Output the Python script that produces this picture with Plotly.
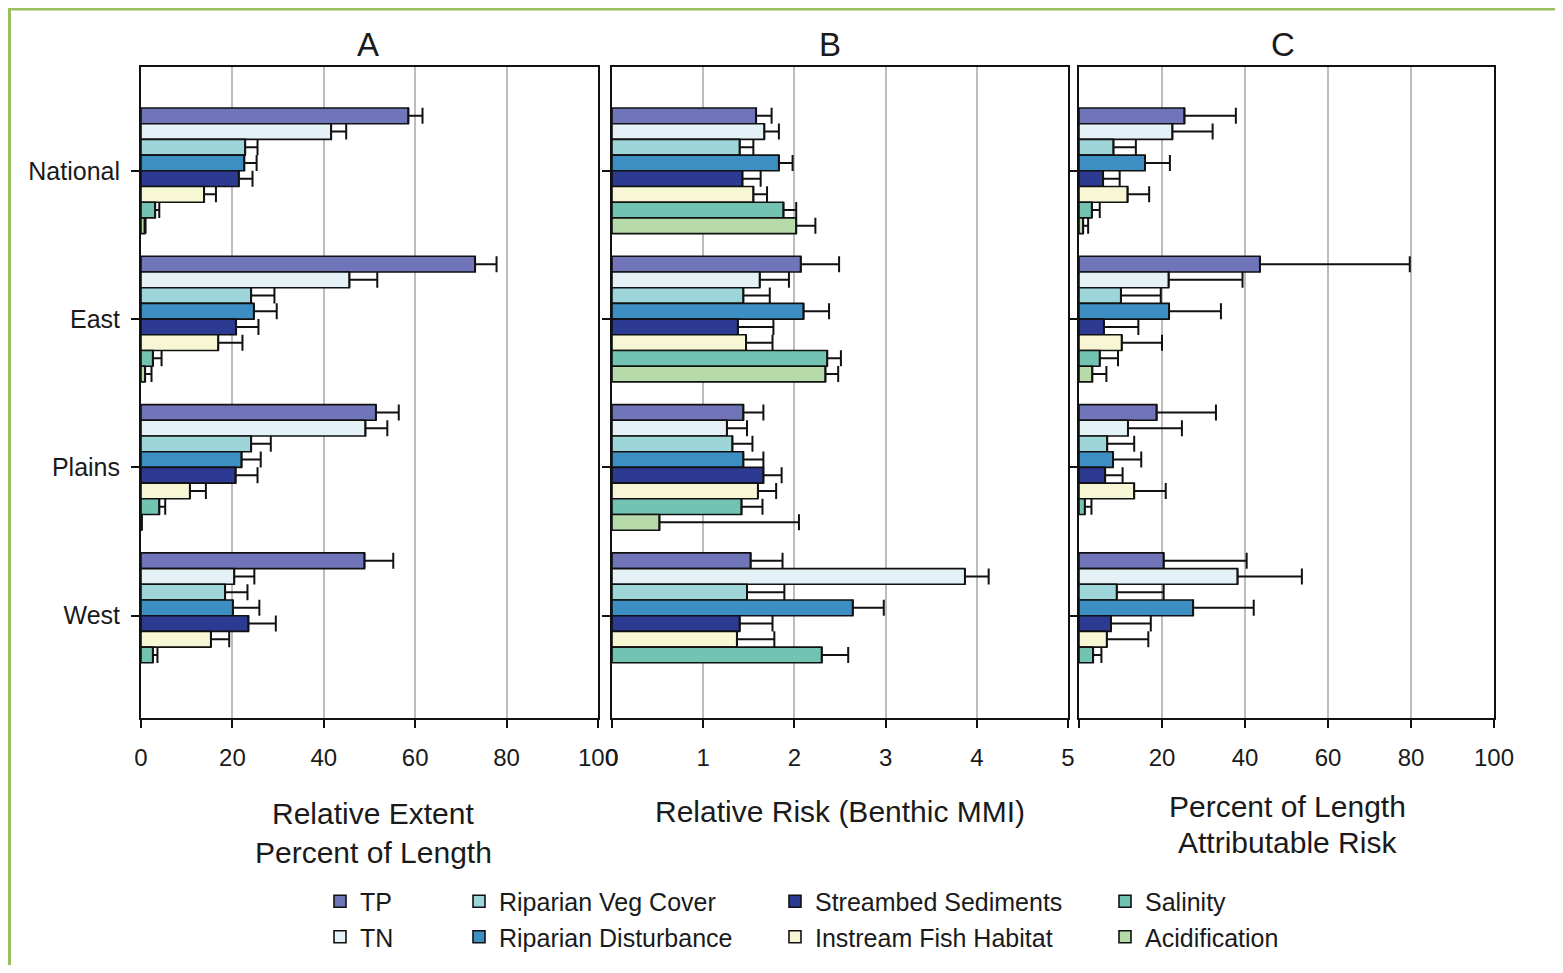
import plotly.graph_objects as go

PAGE_W, PAGE_H = 1563, 973
OFF = 8  # default browser body margin
W, H = PAGE_W - 2 * OFF, PAGE_H - 2 * OFF

regions = ["National", "East", "Plains", "West"]
stressors = ["TP", "TN", "Riparian Veg Cover", "Riparian Disturbance",
             "Streambed Sediments", "Instream Fish Habitat", "Salinity", "Acidification"]
colors = ["#7074B8", "#E4F2F8", "#9ED5D9", "#3D8FC3",
          "#2C3A92", "#F7F7D5", "#73C3B2", "#B7DAAA"]

# Panel A: Relative extent (% of length) and upper CI
ext_val = {
    "TP": [58.5, 73.1, 51.4, 48.9],
    "TN": [41.6, 45.6, 49.1, 20.4],
    "Riparian Veg Cover": [22.8, 24.1, 24.1, 18.4],
    "Riparian Disturbance": [22.6, 24.7, 22.0, 20.1],
    "Streambed Sediments": [21.4, 20.8, 20.7, 23.5],
    "Instream Fish Habitat": [13.8, 16.9, 10.7, 15.3],
    "Salinity": [3.1, 2.6, 4.0, 2.6],
    "Acidification": [0.8, 0.9, 0.1, None],
}
ext_up = {
    "TP": [61.6, 77.8, 56.4, 55.2],
    "TN": [44.9, 51.7, 53.9, 24.8],
    "Riparian Veg Cover": [25.5, 29.2, 28.4, 23.3],
    "Riparian Disturbance": [25.3, 29.7, 26.2, 25.9],
    "Streambed Sediments": [24.4, 25.7, 25.5, 29.5],
    "Instream Fish Habitat": [16.4, 22.2, 14.2, 19.3],
    "Salinity": [4.0, 4.5, 5.3, 3.6],
    "Acidification": [1.0, 2.3, 0.2, None],
}

# Panel B: Relative risk (Benthic MMI) and upper CI
rr_val = {
    "TP": [1.58, 2.07, 1.44, 1.52],
    "TN": [1.67, 1.62, 1.26, 3.87],
    "Riparian Veg Cover": [1.40, 1.44, 1.32, 1.48],
    "Riparian Disturbance": [1.83, 2.10, 1.44, 2.64],
    "Streambed Sediments": [1.43, 1.38, 1.66, 1.40],
    "Instream Fish Habitat": [1.55, 1.47, 1.60, 1.37],
    "Salinity": [1.88, 2.36, 1.42, 2.30],
    "Acidification": [2.02, 2.34, 0.52, None],
}
rr_up = {
    "TP": [1.75, 2.49, 1.66, 1.87],
    "TN": [1.83, 1.94, 1.48, 4.13],
    "Riparian Veg Cover": [1.55, 1.73, 1.54, 1.89],
    "Riparian Disturbance": [1.98, 2.38, 1.66, 2.98],
    "Streambed Sediments": [1.63, 1.77, 1.86, 1.76],
    "Instream Fish Habitat": [1.70, 1.76, 1.80, 1.78],
    "Salinity": [2.02, 2.51, 1.65, 2.59],
    "Acidification": [2.23, 2.48, 2.05, None],
}

# Panel C: Attributable risk (% of length) and upper CI
ar_val = {
    "TP": [25.4, 43.6, 18.7, 20.4],
    "TN": [22.5, 21.6, 11.8, 38.2],
    "Riparian Veg Cover": [8.3, 10.1, 6.8, 9.1],
    "Riparian Disturbance": [15.9, 21.7, 8.2, 27.5],
    "Streambed Sediments": [5.8, 6.0, 6.3, 7.7],
    "Instream Fish Habitat": [11.7, 10.3, 13.3, 6.7],
    "Salinity": [3.1, 5.0, 1.4, 3.4],
    "Acidification": [1.0, 3.2, None, None],
}
ar_up = {
    "TP": [37.8, 79.7, 33.0, 40.4],
    "TN": [32.2, 39.4, 24.8, 53.7],
    "Riparian Veg Cover": [13.7, 19.7, 13.3, 20.4],
    "Riparian Disturbance": [21.9, 34.2, 15.0, 42.1],
    "Streambed Sediments": [9.8, 14.3, 10.5, 17.3],
    "Instream Fish Habitat": [16.9, 20.0, 20.9, 16.7],
    "Salinity": [5.0, 9.4, 3.0, 5.4],
    "Acidification": [2.2, 6.6, None, None],
}

xA_ticks = [0, 20, 40, 60, 80, 100]
xB_ticks = [0, 1, 2, 3, 4, 5]
xC_ticks = [0, 20, 40, 60, 80, 100]
xC_ticktext = ["", "20", "40", "60", "80", "100"]  # the 0 is hidden behind panel B's 5

FONT = "Liberation Sans, Arial, sans-serif"
INK = "#1a1a1a"


def px(x):
    """page pixel x -> paper fraction"""
    return (x - OFF) / W


def py(y):
    """page pixel y -> paper fraction"""
    return 1 - (y - OFF) / H


def plus_err(vals, ups):
    return [None if (v is None or u is None) else max(u - v, 0) for v, u in zip(vals, ups)]


legend_of = ["legend", "legend", "legend2", "legend2",
             "legend3", "legend3", "legend4", "legend4"]

fig = go.Figure()
panels = [("x", "y", ext_val, ext_up), ("x2", "y2", rr_val, rr_up), ("x3", "y3", ar_val, ar_up)]
for pi, (xa, ya, vals, ups) in enumerate(panels):
    for si, s in enumerate(stressors):
        fig.add_trace(go.Bar(
            y=regions, x=vals[s], orientation="h", name=s,
            xaxis=xa, yaxis=ya,
            marker=dict(color=colors[si], line=dict(color="#111111", width=1.6)),
            error_x=dict(type="data", symmetric=False, array=plus_err(vals[s], ups[s]),
                         arrayminus=[0] * len(regions), color="#111111",
                         thickness=2, width=8),
            legendgroup=s, showlegend=(pi == 0), legend=legend_of[si],
            hoverinfo="x+y+name",
        ))

axis_common = dict(showline=True, mirror=True, linecolor="#111111", linewidth=2,
                   ticks="outside", ticklen=8, tickwidth=2, tickcolor="#111111",
                   zeroline=False, automargin=False,
                   tickfont=dict(size=24, color=INK, family=FONT))
xgrid = dict(showgrid=True, gridcolor="#BDBDBD", gridwidth=2, ticklabelstandoff=9)

y_dom = [py(718), py(67)]
y_range = [3.69, -0.70]

layout = dict(
    width=W, height=H,
    margin=dict(l=0, r=0, t=0, b=0, pad=0, autoexpand=False),
    paper_bgcolor="white", plot_bgcolor="white",
    barmode="group", bargap=0.153, bargroupgap=0,
    font=dict(family=FONT, color=INK),
    xaxis=dict(domain=[px(141), px(598)], range=[0, 100], tickvals=xA_ticks,
               anchor="y", **xgrid, **axis_common),
    xaxis2=dict(domain=[px(612), px(1068)], range=[0, 5], tickvals=xB_ticks,
                anchor="y2", **xgrid, **axis_common),
    xaxis3=dict(domain=[px(1079), px(1494)], range=[0, 100], tickvals=xC_ticks,
                ticktext=xC_ticktext, anchor="y3", **xgrid, **axis_common),
    yaxis=dict(domain=y_dom, type="category", categoryorder="array",
               categoryarray=regions, range=y_range, anchor="x",
               showgrid=False, ticklabelstandoff=6, **axis_common),
    yaxis2=dict(domain=y_dom, type="category", categoryorder="array",
                categoryarray=regions, range=y_range, anchor="x2",
                showgrid=False, showticklabels=False, **axis_common),
    yaxis3=dict(domain=y_dom, type="category", categoryorder="array",
                categoryarray=regions, range=y_range, anchor="x3",
                showgrid=False, showticklabels=False, **axis_common),
)
layout["yaxis"]["tickfont"] = dict(size=25, color=INK, family=FONT)

leg_text_x = [360, 499, 815, 1145]
for i, key in enumerate(["legend", "legend2", "legend3", "legend4"]):
    layout[key] = dict(x=px(leg_text_x[i] - 40), xanchor="left",
                       y=py(919), yanchor="middle", orientation="v",
                       bgcolor="rgba(0,0,0,0)", borderwidth=0,
                       font=dict(size=25, color=INK, family=FONT),
                       itemwidth=30, traceorder="normal")

fig.update_layout(**layout)

ann = []
for t, x in [("A", 368), ("B", 830), ("C", 1283)]:
    ann.append(dict(text=t, x=px(x), y=py(45), xref="paper", yref="paper",
                    showarrow=False, font=dict(size=33, color=INK, family=FONT),
                    xanchor="center", yanchor="middle"))
for t, x, y in [("Relative Extent", 373, 813), ("Percent of Length", 373, 852),
                ("Relative Risk (Benthic MMI)", 840, 811),
                ("Percent of Length", 1287, 806), ("Attributable Risk", 1287, 842)]:
    ann.append(dict(text=t, x=px(x), y=py(y), xref="paper", yref="paper",
                    showarrow=False, font=dict(size=30, color=INK, family=FONT),
                    xanchor="center", yanchor="middle"))
fig.update_layout(annotations=ann)

# outer green frame (left and top edges visible)
fig.add_shape(type="line", xref="paper", yref="paper", x0=px(9.5), x1=px(9.5),
              y0=1, y1=0, line=dict(color="#9BBF5F", width=3))
fig.add_shape(type="line", xref="paper", yref="paper", x0=px(8), x1=1,
              y0=py(9), y1=py(9), line=dict(color="#9BBF5F", width=3))

fig.write_html("out.html")
